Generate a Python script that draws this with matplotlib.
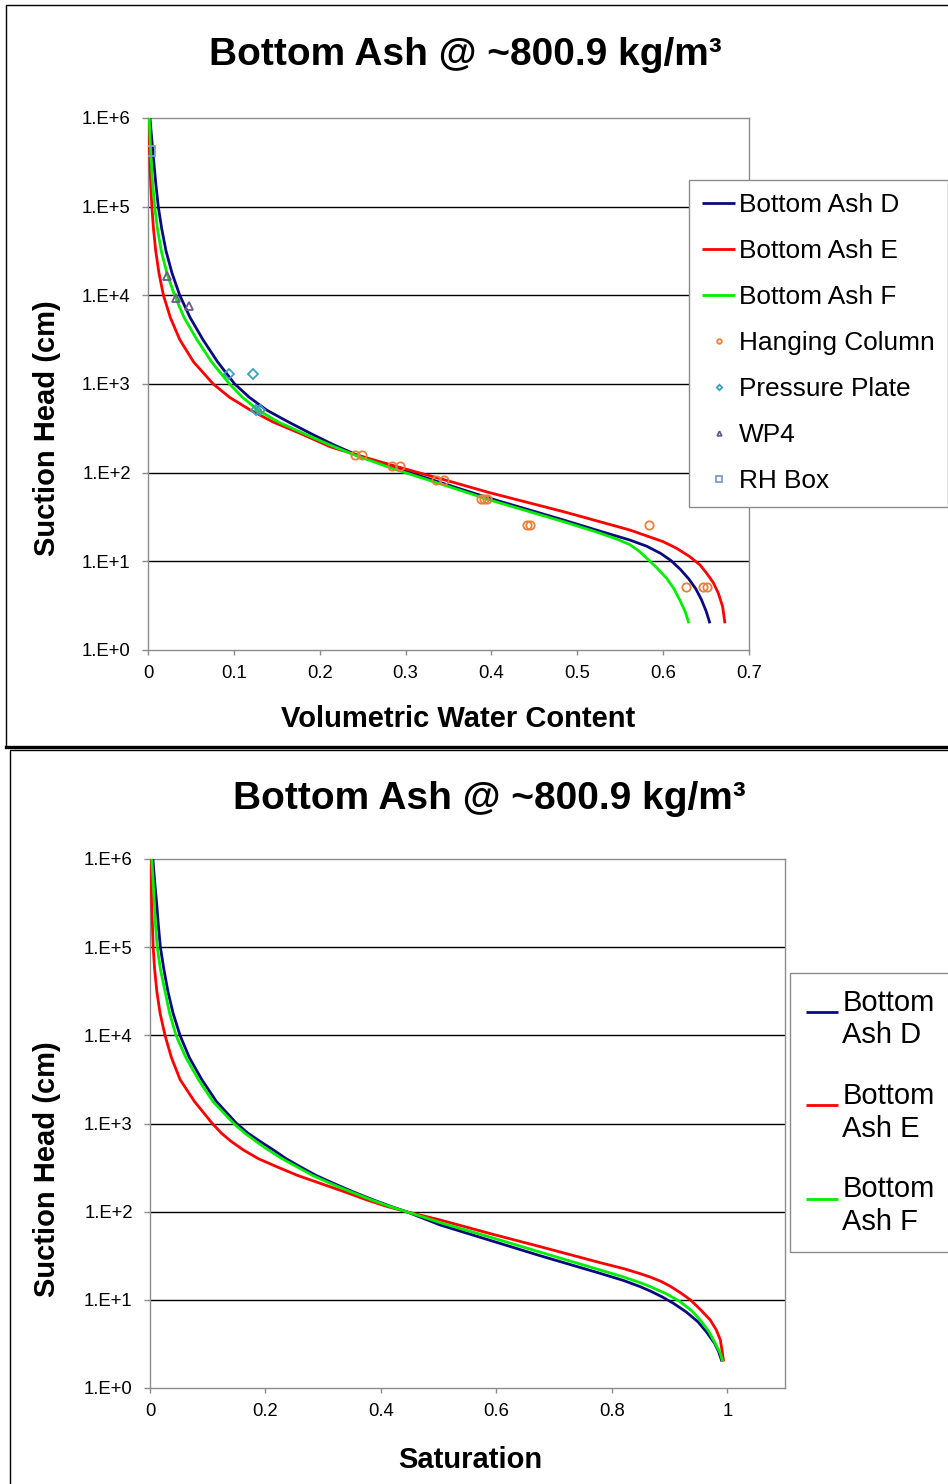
import matplotlib
matplotlib.use("Agg")
import numpy as np
import matplotlib.pyplot as plt
from matplotlib.lines import Line2D
from matplotlib.patches import Rectangle
from matplotlib.legend_handler import HandlerLine2D
from matplotlib.ticker import FixedLocator, NullLocator


plt.rcParams['font.family'] = ['Liberation Sans', 'DejaVu Sans']

W, H = 948, 1484
TITLE = "Bottom Ash @ ~800.9 kg/m\u00b3"

# fitted retention curves: volumetric water content vs log10 suction head (cm)
theta_d = [0.0023, 0.0045, 0.0068, 0.0092, 0.012, 0.016, 0.021, 0.028, 0.037,
           0.049, 0.064, 0.081, 0.101, 0.118, 0.138, 0.162, 0.189, 0.215, 0.243,
           0.265, 0.290, 0.345, 0.398, 0.484, 0.53, 0.561, 0.581, 0.597, 0.609,
           0.62, 0.63, 0.638, 0.6445, 0.65, 0.6545]
lgh_d = [6, 5.75, 5.5, 5.25, 5, 4.75, 4.5, 4.25, 4, 3.75, 3.5, 3.25, 3,
         2.85, 2.707, 2.58, 2.444, 2.32, 2.2, 2.125, 2.049, 1.875, 1.711, 1.466,
         1.33, 1.241, 1.17, 1.09, 1.01, 0.91, 0.80, 0.69, 0.57, 0.44, 0.301]
theta_e = [0.001, 0.0015, 0.0022, 0.0032, 0.0045, 0.0064, 0.009, 0.0128, 0.018,
           0.026, 0.037, 0.053, 0.076, 0.095, 0.119, 0.146, 0.177, 0.212, 0.243,
           0.290, 0.345, 0.398, 0.484, 0.561, 0.600, 0.6157, 0.631, 0.643, 0.6507,
           0.6584, 0.6643, 0.6693, 0.672]
lgh_e = [6, 5.75, 5.5, 5.25, 5, 4.75, 4.5, 4.25, 4, 3.75, 3.5, 3.25, 3,
         2.85, 2.707, 2.57, 2.444, 2.293, 2.2, 2.068, 1.92, 1.774, 1.56, 1.354,
         1.222, 1.147, 1.053, 0.959, 0.865, 0.76, 0.64, 0.489, 0.301]
theta_f = [0.0015, 0.0025, 0.0038, 0.0055, 0.0078, 0.011, 0.0155, 0.022, 0.031,
           0.042, 0.057, 0.074, 0.095, 0.11, 0.128, 0.152, 0.181, 0.210, 0.243,
           0.290, 0.345, 0.398, 0.484, 0.5226, 0.545, 0.561, 0.572, 0.581, 0.5924,
           0.604, 0.6126, 0.6196, 0.6258, 0.630]
lgh_f = [6, 5.75, 5.5, 5.25, 5, 4.75, 4.5, 4.25, 4, 3.75, 3.5, 3.25, 3,
         2.85, 2.707, 2.57, 2.444, 2.32, 2.19, 2.03, 1.86, 1.692, 1.447, 1.33,
         1.255, 1.19, 1.115, 1.034, 0.93, 0.81, 0.69, 0.56, 0.43, 0.301]

# measured points (head in cm)
hang_theta = [0.241, 0.249, 0.284, 0.294, 0.335, 0.345, 0.388, 0.391, 0.395,
              0.442, 0.445, 0.584, 0.627, 0.647, 0.651]
hang_head = [158, 158, 119, 119, 83, 83, 51, 51, 51, 26, 26, 26, 5.2, 5.2, 5.2]
pp_theta = [0.094, 0.122, 0.126, 0.130]
pp_head = [1300, 1300, 515, 515]
wp4_theta = [0.0225, 0.0326, 0.0474]
wp4_head = [16700, 9270, 7590]
rh_theta = [0.0023]
rh_head = [4.2e5]

# same curves against saturation
sat_d = [0.005, 0.008, 0.0115, 0.0145, 0.018, 0.024, 0.031, 0.040, 0.052, 0.068,
         0.0895, 0.115, 0.150, 0.170, 0.190, 0.2137, 0.236, 0.26, 0.288, 0.3177,
         0.350, 0.387, 0.417, 0.445, 0.475, 0.5026, 0.59, 0.676, 0.78, 0.82,
         0.849, 0.8666, 0.8868, 0.9069, 0.929, 0.949, 0.9636, 0.978, 0.985, 0.9907]
slgh_d = [6, 5.75, 5.5, 5.25, 5, 4.75, 4.5, 4.25, 4, 3.75, 3.5, 3.25, 3,
          2.889, 2.8, 2.7, 2.6, 2.51, 2.41, 2.322, 2.23, 2.133, 2.06, 1.998, 1.92,
          1.849, 1.673, 1.50, 1.30, 1.22, 1.15, 1.10, 1.035, 0.96, 0.862, 0.752,
          0.639, 0.507, 0.412, 0.301]
sat_e = [0.001, 0.002, 0.003, 0.0042, 0.0055, 0.008, 0.0118, 0.0175, 0.026, 0.037,
         0.052, 0.077, 0.108, 0.124, 0.140, 0.1617, 0.188, 0.2195, 0.256, 0.2946,
         0.335, 0.3756, 0.41, 0.445, 0.475, 0.5026, 0.59, 0.676, 0.78, 0.82,
         0.85, 0.8666, 0.885, 0.901, 0.919, 0.936, 0.953, 0.9705, 0.981, 0.988,
         0.9913, 0.9936]
slgh_e = [6, 5.75, 5.5, 5.25, 5, 4.75, 4.5, 4.25, 4, 3.75, 3.5, 3.25, 3,
          2.889, 2.8, 2.7, 2.6, 2.51, 2.41, 2.322, 2.23, 2.133, 2.06, 1.998, 1.95,
          1.906, 1.75, 1.603, 1.421, 1.355, 1.295, 1.258, 1.21, 1.155, 1.08, 1.0,
          0.893, 0.772, 0.658, 0.545, 0.412, 0.301]
sat_f = [0.003, 0.0055, 0.0075, 0.0095, 0.0125, 0.018, 0.026, 0.034, 0.045, 0.062,
         0.0837, 0.109, 0.145, 0.1646, 0.183, 0.205, 0.229, 0.254, 0.282, 0.312,
         0.346, 0.384, 0.415, 0.445, 0.473, 0.5026, 0.59, 0.676, 0.78, 0.82,
         0.849, 0.8666, 0.8955, 0.9185, 0.9388, 0.953, 0.9676, 0.979, 0.9879, 0.992]
slgh_f = [6, 5.75, 5.5, 5.25, 5, 4.75, 4.5, 4.25, 4, 3.75, 3.5, 3.25, 3,
          2.889, 2.8, 2.7, 2.6, 2.51, 2.41, 2.322, 2.23, 2.133, 2.06, 1.998, 1.94,
          1.876, 1.71, 1.541, 1.338, 1.26, 1.195, 1.15, 1.065, 0.979, 0.874, 0.772,
          0.647, 0.507, 0.394, 0.301]

y_ticks = [1e0, 1e1, 1e2, 1e3, 1e4, 1e5, 1e6]
y_labels = ["1.E+0", "1.E+1", "1.E+2", "1.E+3", "1.E+4", "1.E+5", "1.E+6"]
x_top_ticks = [0, 0.1, 0.2, 0.3, 0.4, 0.5, 0.6, 0.7]
x_top_labels = ["0", "0.1", "0.2", "0.3", "0.4", "0.5", "0.6", "0.7"]
x_bot_ticks = [0, 0.2, 0.4, 0.6, 0.8, 1.0]
x_bot_labels = ["0", "0.2", "0.4", "0.6", "0.8", "1"]

NAVY = "#0a0a80"
RED = "#ff0000"
GREEN = "#00ee00"
SPINE = "#8c8c8c"


class RaisedLine(HandlerLine2D):
    """Legend line drawn level with the first text line of a two-line label."""

    def __init__(self, lift, **kw):
        super().__init__(**kw)
        self.lift = lift

    def create_artists(self, legend, orig_handle, xdescent, ydescent, width,
                       height, fontsize, trans):
        return super().create_artists(legend, orig_handle, xdescent,
                                      ydescent - self.lift, width, height,
                                      fontsize, trans)


def px_rect(left, top, right, bottom):
    return [left / W, 1 - bottom / H, (right - left) / W, (bottom - top) / H]


def style_axes(ax, xlim, xticks, xlabels):
    ax.set_yscale("log")
    ax.set_ylim(1, 1e6)
    ax.set_xlim(*xlim)
    ax.yaxis.set_major_locator(FixedLocator(y_ticks))
    ax.yaxis.set_minor_locator(NullLocator())
    ax.set_yticklabels(y_labels)
    ax.set_xticks(xticks)
    ax.set_xticklabels(xlabels)
    for s in ax.spines.values():
        s.set_color(SPINE)
        s.set_linewidth(1.0)
    ax.tick_params(axis="y", length=4.5, width=1, color=SPINE, pad=8, labelsize=13.3)
    ax.tick_params(axis="x", length=3.5, width=1, color=SPINE, pad=7, labelsize=13.3)
    for yv in y_ticks[1:-1]:
        ax.axhline(yv, color="black", lw=1.0, zorder=1)


def curve(ax, x, lgh, color):
    line, = ax.plot(x, 10 ** np.asarray(lgh), color=color, lw=2.0, zorder=3,
                    solid_joinstyle="round", solid_capstyle="butt")
    return line


fig = plt.figure(figsize=(W / 100, H / 100), dpi=100)

# panel frames
fig.add_artist(Rectangle((6 / W, 1 - 747 / H), 1, (747 - 5) / H,
                         transform=fig.transFigure, fill=False, ec="black", lw=1.0))
fig.add_artist(Line2D([6 / W, 1], [1 - 747 / H] * 2, transform=fig.transFigure,
                      color="black", lw=2.4))
fig.add_artist(Rectangle((10 / W, -0.01), 1, (1484 - 750) / H + 0.01,
                         transform=fig.transFigure, fill=False, ec="black", lw=1.0))

# top panel: water content
ax1 = fig.add_axes(px_rect(148, 118, 749, 650))
style_axes(ax1, (0, 0.7), x_top_ticks, x_top_labels)
l_d = curve(ax1, theta_d, lgh_d, NAVY)
l_e = curve(ax1, theta_e, lgh_e, RED)
l_f = curve(ax1, theta_f, lgh_f, GREEN)
m_hc, = ax1.plot(hang_theta, hang_head, ls="none", marker="o", ms=6, mfc="none",
                 mec="#e8803a", mew=1.3, zorder=4)
m_pp, = ax1.plot(pp_theta, pp_head, ls="none", marker="D", ms=5, mfc="none",
                 mec="#3ba0b8", mew=1.3, zorder=4)
m_wp, = ax1.plot(wp4_theta, wp4_head, ls="none", marker="^", ms=6, mfc="none",
                 mec="#6a5a8a", mew=1.3, zorder=4)
m_rh, = ax1.plot(rh_theta, rh_head, ls="none", marker="s", ms=7, mfc="none",
                 mec="#7f9bd0", mew=1.3, zorder=4)

fig.text(465 / W, 1 - 55 / H, TITLE, ha="center", va="center",
         fontsize=28, fontweight="bold")
fig.text(458 / W, 1 - 719 / H, "Volumetric Water Content", ha="center", va="center",
         fontsize=21, fontweight="bold")
fig.text(47 / W, 1 - 428 / H, "Suction Head (cm)", ha="center", va="center",
         rotation=90, fontsize=21, fontweight="bold")

leg1 = fig.legend([l_d, l_e, l_f, m_hc, m_pp, m_wp, m_rh],
                  ["Bottom Ash D", "Bottom Ash E", "Bottom Ash F", "Hanging Column",
                   "Pressure Plate", "WP4", "RH Box"],
                  loc="upper left", bbox_to_anchor=(689 / W, 1 - 180 / H),
                  bbox_transform=fig.transFigure, borderaxespad=0, fontsize=18.9,
                  frameon=True, fancybox=False, edgecolor=SPINE, framealpha=1,
                  handlelength=1.25, handletextpad=0.15, labelspacing=0.84,
                  borderpad=0.5, markerscale=0.55)
leg1.get_frame().set_linewidth(1.0)

# bottom panel: saturation
ax2 = fig.add_axes(px_rect(150, 859, 785, 1388))
style_axes(ax2, (0, 1.1), x_bot_ticks, x_bot_labels)
s_d = curve(ax2, sat_d, slgh_d, NAVY)
s_e = curve(ax2, sat_e, slgh_e, RED)
s_f = curve(ax2, sat_f, slgh_f, GREEN)

fig.text(489 / W, 1 - 799 / H, TITLE, ha="center", va="center",
         fontsize=28, fontweight="bold")
fig.text(470 / W, 1 - 1460 / H, "Saturation", ha="center", va="center",
         fontsize=21, fontweight="bold")
fig.text(47 / W, 1 - 1169 / H, "Suction Head (cm)", ha="center", va="center",
         rotation=90, fontsize=21, fontweight="bold")

leg2 = fig.legend([s_d, s_e, s_f], ["Bottom\nAsh D", "Bottom\nAsh E", "Bottom\nAsh F"],
                  loc="upper left", bbox_to_anchor=(790 / W, 1 - 973 / H),
                  bbox_transform=fig.transFigure, borderaxespad=0, fontsize=21,
                  frameon=True, fancybox=False, edgecolor=SPINE, framealpha=1,
                  handlelength=1.1, handletextpad=0.15, labelspacing=1.12,
                  borderpad=0.55,
                  handler_map={Line2D: RaisedLine(lift=11.0)})
leg2.get_frame().set_linewidth(1.0)

fig.savefig("out.png", dpi=100)
